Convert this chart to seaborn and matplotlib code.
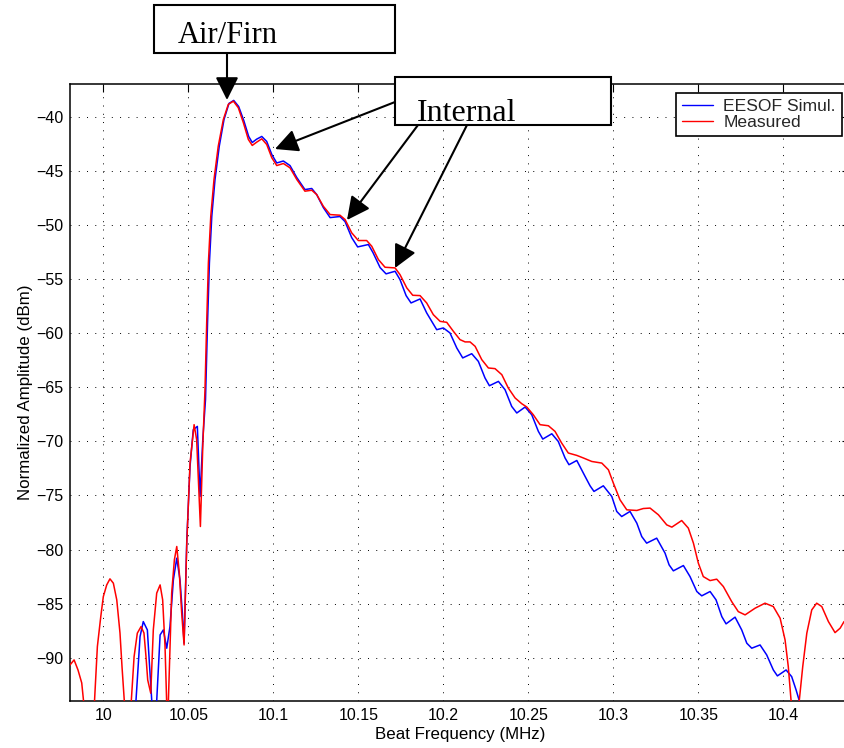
import matplotlib
matplotlib.use("Agg")
import matplotlib.pyplot as plt
import seaborn as sns
import pandas as pd
from matplotlib.patches import Rectangle, FancyArrowPatch
from matplotlib.lines import Line2D

# ---------------- data ----------------
series_names = ["EESOF Simul.", "Measured"]
series_colors = ["#0000ff", "#ff0000"]

sim_freq = [10.0186, 10.0192, 10.0216, 10.0235, 10.0259, 10.0271, 10.0285, 10.0295, 10.0314, 10.0334,
            10.0353, 10.0373, 10.0392, 10.0412, 10.0432, 10.0451, 10.0465, 10.0475, 10.0491, 10.0510,
            10.0529, 10.0553, 10.0569, 10.0585, 10.0601, 10.0613, 10.0624, 10.0638, 10.0657, 10.0682,
            10.0710, 10.0739, 10.0767, 10.0796, 10.0826, 10.0855, 10.0876, 10.0902, 10.0932, 10.0961,
            10.0991, 10.1020, 10.1059, 10.1098, 10.1138, 10.1186, 10.1226, 10.1255, 10.1294, 10.1334,
            10.1392, 10.1422, 10.1461, 10.1496, 10.1559, 10.1586, 10.1628, 10.1663, 10.1716, 10.1745,
            10.1781, 10.1810, 10.1863, 10.1902, 10.1961, 10.2000, 10.2039, 10.2079, 10.2114, 10.2167,
            10.2206, 10.2245, 10.2271, 10.2324, 10.2363, 10.2402, 10.2432, 10.2481, 10.2520, 10.2559,
            10.2585, 10.2638, 10.2676, 10.2716, 10.2739, 10.2785, 10.2834, 10.2863, 10.2886, 10.2941,
            10.2991, 10.3020, 10.3049, 10.3098, 10.3138, 10.3167, 10.3196, 10.3255, 10.3304, 10.3328,
            10.3353, 10.3412, 10.3451, 10.3491, 10.3520, 10.3569, 10.3604, 10.3638, 10.3663, 10.3716,
            10.3755, 10.3785, 10.3814, 10.3863, 10.3902, 10.3941, 10.3965, 10.4016, 10.4049, 10.4075,
            10.4094, 10.4116]
sim_amp = [-97.0, -93.98, -88.05, -86.66, -87.43, -90.51, -93.99, -97.0, -93.99, -87.89,
           -87.43, -89.12, -87.12, -82.80, -80.80, -82.80, -85.88, -88.66, -79.10, -72.32,
           -68.93, -68.62, -75.10, -69.85, -66.15, -59.06, -53.51, -49.20, -45.80, -42.72,
           -40.25, -38.77, -38.49, -39.05, -40.34, -41.82, -42.38, -42.07, -41.82, -42.28,
           -43.49, -44.27, -44.09, -44.51, -45.62, -46.73, -46.63, -47.19, -48.39, -49.32,
           -49.22, -49.69, -51.17, -52.03, -51.81, -52.55, -53.94, -54.52, -54.28, -55.05,
           -56.53, -57.21, -56.84, -58.13, -59.68, -59.52, -59.98, -61.37, -62.29, -61.90,
           -62.61, -64.14, -64.86, -64.46, -65.23, -66.77, -67.38, -66.83, -67.54, -69.08,
           -69.79, -69.30, -70.01, -71.54, -72.16, -71.77, -73.25, -74.11, -74.63, -74.11,
           -75.10, -76.48, -76.95, -76.48, -77.56, -78.80, -79.41, -78.95, -80.33, -81.42,
           -81.97, -81.48, -82.50, -83.88, -84.28, -83.88, -84.65, -86.20, -86.87, -86.25,
           -87.43, -88.66, -89.12, -88.82, -89.74, -91.13, -91.68, -91.13, -91.75, -92.98,
           -93.99, -97.0]

meas_freq = [9.9804, 9.9828, 9.9851, 9.9873, 9.9886, 9.9916, 9.9947, 9.9965, 9.9985, 10.0000,
             10.0020, 10.0039, 10.0059, 10.0079, 10.0098, 10.0110, 10.0125, 10.0142, 10.0163, 10.0181,
             10.0200, 10.0222, 10.0239, 10.0251, 10.0261, 10.0279, 10.0294, 10.0314, 10.0334, 10.0349,
             10.0363, 10.0373, 10.0378, 10.0382, 10.0402, 10.0418, 10.0432, 10.0447, 10.0461, 10.0475,
             10.0491, 10.0510, 10.0534, 10.0549, 10.0559, 10.0571, 10.0585, 10.0598, 10.0608, 10.0618,
             10.0632, 10.0651, 10.0676, 10.0706, 10.0735, 10.0765, 10.0794, 10.0824, 10.0853, 10.0876,
             10.0902, 10.0932, 10.0961, 10.0991, 10.1020, 10.1059, 10.1098, 10.1138, 10.1186, 10.1226,
             10.1255, 10.1294, 10.1334, 10.1392, 10.1422, 10.1461, 10.1500, 10.1549, 10.1579, 10.1618,
             10.1657, 10.1716, 10.1745, 10.1785, 10.1820, 10.1863, 10.1902, 10.1941, 10.1981, 10.2020,
             10.2059, 10.2098, 10.2128, 10.2157, 10.2187, 10.2226, 10.2265, 10.2304, 10.2344, 10.2382,
             10.2422, 10.2461, 10.2491, 10.2529, 10.2569, 10.2618, 10.2657, 10.2696, 10.2735, 10.2785,
             10.2824, 10.2873, 10.2932, 10.2971, 10.3000, 10.3039, 10.3079, 10.3138, 10.3176, 10.3216,
             10.3265, 10.3314, 10.3344, 10.3402, 10.3441, 10.3471, 10.3500, 10.3529, 10.3569, 10.3608,
             10.3647, 10.3696, 10.3735, 10.3775, 10.3834, 10.3892, 10.3941, 10.3981, 10.4010, 10.4029,
             10.4045, 10.4065, 10.4094, 10.4114, 10.4138, 10.4167, 10.4196, 10.4226, 10.4265, 10.4304,
             10.4334, 10.4357]
meas_amp = [-90.67, -90.20, -91.13, -92.33, -94.36, -97.0, -94.36, -88.97, -86.20, -84.35,
            -83.27, -82.71, -83.11, -84.65, -87.71, -90.85, -94.36, -98.0, -94.36, -89.90,
            -87.73, -87.12, -87.71, -89.90, -92.05, -93.28, -87.43, -84.03, -83.27, -84.65,
            -88.97, -94.36, -97.0, -94.36, -84.03, -80.95, -79.72, -82.18, -85.88, -88.82,
            -79.41, -72.01, -68.46, -69.85, -73.55, -77.87, -70.47, -65.23, -59.06, -53.51,
            -49.20, -45.80, -42.72, -40.25, -38.86, -38.56, -39.17, -40.56, -42.10, -42.65,
            -42.35, -42.04, -42.56, -43.79, -44.51, -44.32, -44.72, -45.80, -46.88, -46.79,
            -47.19, -48.27, -49.04, -49.10, -49.50, -50.73, -51.44, -51.44, -51.97, -53.20,
            -53.91, -53.97, -54.59, -55.82, -56.50, -56.53, -57.21, -58.29, -58.91, -59.00,
            -59.83, -60.60, -60.81, -60.81, -61.22, -62.45, -63.22, -63.28, -63.84, -65.07,
            -65.99, -66.52, -66.83, -67.54, -68.46, -68.56, -69.08, -70.16, -71.08, -71.30,
            -71.54, -71.86, -72.01, -72.63, -73.86, -75.40, -76.33, -76.39, -76.21, -76.17,
            -76.79, -77.72, -77.93, -77.32, -78.02, -79.41, -81.26, -82.50, -82.87, -82.74,
            -83.42, -84.81, -85.74, -86.04, -85.42, -84.96, -85.27, -86.35, -88.35, -90.82,
            -93.90, -97.0, -93.90, -90.82, -87.73, -85.58, -84.96, -85.27, -86.66, -87.68,
            -87.27, -86.66]

xtick_values = [10.0, 10.05, 10.1, 10.15, 10.2, 10.25, 10.3, 10.35, 10.4]
xtick_labels = ["10", "10.05", "10.1", "10.15", "10.2", "10.25", "10.3", "10.35", "10.4"]
ytick_values = [-90, -85, -80, -75, -70, -65, -60, -55, -50, -45, -40]
x_range = [9.9804, 10.4392]
y_range = [-94.0, -37.0]
x_label = "Beat Frequency (MHz)"
y_label = "Normalized Amplitude (dBm)"
annot_labels = ["Air/Firn", "Internal"]

# ---------------- figure ----------------
sns.set_theme(style="white")
plt.rcParams["font.family"] = ["Liberation Sans", "DejaVu Sans"]
plt.rcParams["axes.unicode_minus"] = True
plt.rcParams["lines.solid_joinstyle"] = "round"
plt.rcParams["lines.solid_capstyle"] = "round"

W, H = 844, 748
fig = plt.figure(figsize=(W / 100, H / 100), dpi=100)
fig.patch.set_facecolor("white")

def fx(px):
    return px / W

def fy(py):
    return 1 - py / H

ax_l, ax_r, ax_t, ax_b = 70, 850, 84.3, 701
ax = fig.add_axes([fx(ax_l), fy(ax_b), (ax_r - ax_l) / W, (ax_b - ax_t) / H])
ax.set_facecolor("white")

df = pd.concat([
    pd.DataFrame({"freq": sim_freq, "amp": sim_amp, "series": series_names[0]}),
    pd.DataFrame({"freq": meas_freq, "amp": meas_amp, "series": series_names[1]}),
], ignore_index=True)

sns.lineplot(data=df, x="freq", y="amp", hue="series", hue_order=series_names,
             palette=dict(zip(series_names, series_colors)), estimator=None, sort=False,
             linewidth=1.1, legend=False, ax=ax, zorder=3)

ax.set_xlim(*x_range)
ax.set_ylim(*y_range)
ax.set_xticks(xtick_values)
ax.set_xticklabels(xtick_labels)
ax.set_yticks(ytick_values)

ax.grid(True, color="black", linestyle=(0, (1, 7.5)), linewidth=0.7)
ax.tick_params(axis="both", which="both", direction="in", length=6, width=0.8,
               top=True, right=True, labelsize=11.5, colors="black", pad=5)
for s in ax.spines.values():
    s.set_color("black")
    s.set_linewidth(1.1)

ax.set_xlabel(x_label, fontsize=12.2, color="black", labelpad=3)
ax.set_ylabel(y_label, fontsize=12.2, color="black", labelpad=2)

handles = [Line2D([], [], color=c, lw=1.0) for c in series_colors]
leg = ax.legend(handles, series_names, loc="upper right",
                bbox_to_anchor=(fx(842), fy(93)), bbox_transform=fig.transFigure,
                borderaxespad=0, fontsize=12.6, frameon=True, fancybox=False,
                edgecolor="black", framealpha=1, handlelength=1.75, handletextpad=0.6,
                labelspacing=0.02, borderpad=0.35)
leg.get_frame().set_linewidth(1.2)
leg.set_zorder(5)

# ---------------- annotation boxes and arrows ----------------
serif = ["Liberation Serif", "DejaVu Serif"]

def box(x0, y0, x1, y1):
    r = Rectangle((fx(x0), fy(y1)), (x1 - x0) / W, (y1 - y0) / H, transform=fig.transFigure,
                  facecolor="white", edgecolor="black", linewidth=1.5, zorder=10)
    fig.add_artist(r)

def arrow(xa, ya, xb, yb):
    a = FancyArrowPatch((fx(xa), fy(ya)), (fx(xb), fy(yb)), transform=fig.transFigure,
                        arrowstyle="-|>,head_length=1.0,head_width=0.5", mutation_scale=14,
                        color="black", linewidth=1.5, shrinkA=0, shrinkB=0, zorder=9)
    fig.add_artist(a)

box(154, 5, 395, 53)
fig.text(fx(178), fy(43), annot_labels[0], fontsize=22, family=serif, ha="left",
         va="baseline", color="black", zorder=11)
arrow(227, 53, 227, 100)

arrow(395, 102, 275, 149)
arrow(418, 125, 347, 220)
arrow(467, 125, 395, 268)
box(395, 77, 611, 125)
fig.text(fx(417), fy(121), annot_labels[1], fontsize=23, family=serif, ha="left",
         va="baseline", color="black", zorder=11)

fig.savefig("out.png", dpi=100, facecolor="white")
